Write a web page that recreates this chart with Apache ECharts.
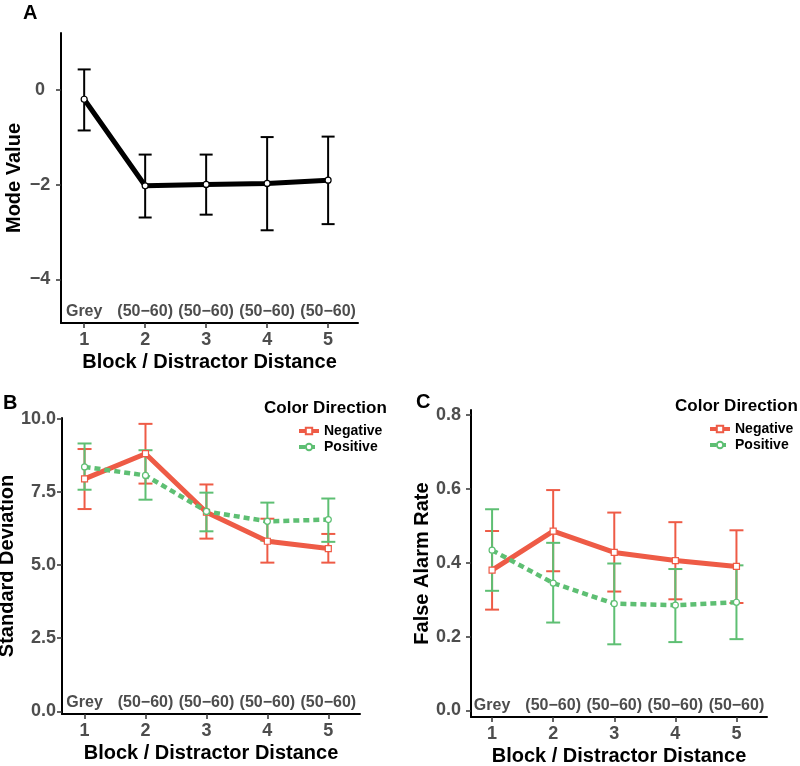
<!DOCTYPE html>
<html><head><meta charset="utf-8">
<script src="https://cdn.jsdelivr.net/npm/echarts@6/dist/echarts.min.js"></script>
<style>html,body{margin:0;padding:0;background:#fff}#c{width:800px;height:766px}</style>
</head><body><div id="c"></div>
<script>
// ---- data ----
const blocks = [1, 2, 3, 4, 5];
const conditionLabels = ['Grey', '(50−60)', '(50−60)', '(50−60)', '(50−60)'];
const seriesNames = ['Negative', 'Positive'];

const modeMean = [-0.19, -2.02, -1.99, -1.97, -1.90];
const modeLow  = [-0.85, -2.69, -2.63, -2.96, -2.83];
const modeHigh = [0.44, -1.36, -1.36, -0.99, -0.98];

const sdNegMean = [7.94, 8.80, 6.80, 5.81, 5.56];
const sdNegLow  = [6.91, 7.78, 5.90, 5.08, 5.08];
const sdNegHigh = [8.96, 9.82, 7.75, 6.58, 6.06];
const sdPosMean = [8.35, 8.06, 6.83, 6.49, 6.55];
const sdPosLow  = [7.57, 7.23, 6.15, 5.83, 5.79];
const sdPosHigh = [9.15, 8.92, 7.47, 7.13, 7.27];

const faNegMean = [0.380, 0.486, 0.428, 0.406, 0.390];
const faNegLow  = [0.273, 0.377, 0.322, 0.301, 0.291];
const faNegHigh = [0.486, 0.597, 0.536, 0.510, 0.488];
const faPosMean = [0.434, 0.345, 0.289, 0.285, 0.293];
const faPosLow  = [0.324, 0.238, 0.179, 0.185, 0.193];
const faPosHigh = [0.545, 0.454, 0.398, 0.383, 0.393];

const modeTicks = [-4, -2, 0];
const modeTickLabels = ['−4', '−2', '0'];
const sdTicks = [0, 2.5, 5, 7.5, 10];
const sdTickLabels = ['0.0', '2.5', '5.0', '7.5', '10.0'];
const faTicks = [0, 0.2, 0.4, 0.6, 0.8];
const faTickLabels = ['0.0', '0.2', '0.4', '0.6', '0.8'];

// ---- style ----
const FONT = '"Liberation Sans", Arial, Helvetica, sans-serif';
const RED = '#EE5B46';
const GREEN = '#5EBF73';
const TICKCOL = '#4D4D4D';

const pairs = (xs, ys) => xs.map((x, i) => [x, ys[i]]);
const triples = (xs, lo, hi) => xs.map((x, i) => [x, lo[i], hi[i]]);
const lookup = (vals, labels) => v => { const i = vals.findIndex(t => Math.abs(t - v) < 1e-9); return i >= 0 ? labels[i] : ''; };

function errorBar(capW, color, lw) {
  return function (params, api) {
    const x = api.value(0), lo = api.value(1), hi = api.value(2);
    const a = api.coord([x, hi]), b = api.coord([x, lo]);
    const style = { stroke: color, lineWidth: lw, fill: null };
    return { type: 'group', children: [
      { type: 'line', shape: { x1: a[0], y1: a[1], x2: b[0], y2: b[1] }, style },
      { type: 'line', shape: { x1: a[0] - capW / 2, y1: a[1], x2: a[0] + capW / 2, y2: a[1] }, style },
      { type: 'line', shape: { x1: b[0] - capW / 2, y1: b[1], x2: b[0] + capW / 2, y2: b[1] }, style }
    ]};
  };
}

function mainX(grid, min, max) {
  return {
    type: 'value', gridIndex: grid, min, max, position: 'bottom',
    name: 'Block / Distractor Distance', nameLocation: 'middle', nameGap: 29,
    nameTextStyle: { fontFamily: FONT, fontSize: 20, fontWeight: 'bold', color: '#000' },
    splitLine: { show: false },
    axisLine: { onZero: false, lineStyle: { color: '#000', width: 2 } },
    axisTick: { show: true, length: 5, customValues: blocks, lineStyle: { color: '#333', width: 1.5 } },
    axisLabel: { customValues: blocks, margin: 8, fontFamily: FONT, fontSize: 18, fontWeight: 'bold', color: TICKCOL,
      formatter: v => String(v) }
  };
}
function annotX(grid, min, max) {
  return {
    type: 'value', gridIndex: grid, min, max, position: 'bottom',
    splitLine: { show: false },
    axisLine: { show: false, onZero: false },
    axisTick: { show: false },
    axisLabel: { inside: true, customValues: blocks, margin: 3, fontFamily: FONT, fontSize: 16, fontWeight: 'bold', color: TICKCOL,
      formatter: lookup(blocks, conditionLabels) }
  };
}
function yAx(grid, min, max, name, gap, ticks, labels, margin, align) {
  return {
    type: 'value', gridIndex: grid, min, max,
    name, nameLocation: 'middle', nameGap: gap,
    nameTextStyle: { fontFamily: FONT, fontSize: 20, fontWeight: 'bold', color: '#000' },
    splitLine: { show: false },
    axisLine: { show: true, onZero: false, lineStyle: { color: '#000', width: 2 } },
    axisTick: { show: true, length: 5, customValues: ticks, lineStyle: { color: '#333', width: 1.5 } },
    axisLabel: { customValues: ticks, margin, align, fontFamily: FONT, fontSize: 18, fontWeight: 'bold', color: TICKCOL,
      formatter: lookup(ticks, labels) }
  };
}
function lineSeries(name, xi, yi, data, color, symbol, dashed, width) {
  return {
    type: 'line', name, xAxisIndex: xi, yAxisIndex: yi, data,
    symbol, symbolSize: 6, showSymbol: true,
    itemStyle: { color: '#fff', borderColor: color, borderWidth: 1.2 },
    lineStyle: { color, width, type: dashed ? [6, 4] : 'solid' },
    emphasis: { disabled: true }, animation: false, z: dashed ? 4 : 3
  };
}
function ebSeries(name, xi, yi, data, capW, color, lw) {
  return {
    type: 'custom', name, xAxisIndex: xi, yAxisIndex: yi, data,
    encode: { x: 0, y: [1, 2] }, renderItem: errorBar(capW, color, lw), animation: false, z: 2, silent: true
  };
}

const chart = echarts.init(document.getElementById('c'), null, { renderer: 'canvas' });
const legendBase = {
  orient: 'vertical', itemWidth: 20, itemHeight: 8, itemGap: 2, padding: 0,
  lineStyle: { width: 4 },
  textStyle: { fontFamily: FONT, fontSize: 14, fontWeight: 'bold', color: '#000' },
  data: seriesNames, selectedMode: false
};
const titleStyle = (size) => ({ fontFamily: FONT, fontSize: size, fontWeight: 'bold', color: '#000' });

chart.setOption({
  backgroundColor: '#fff',
  animation: false,
  title: [
    { text: 'A', left: 23, top: 3, padding: 0, textStyle: titleStyle(20) },
    { text: 'B', left: 3, top: 393, padding: 0, textStyle: titleStyle(20) },
    { text: 'C', left: 416, top: 392, padding: 0, textStyle: titleStyle(20) },
    { text: 'Color Direction', left: 264, top: 400, padding: 0, textStyle: titleStyle(17) },
    { text: 'Color Direction', left: 675, top: 398, padding: 0, textStyle: titleStyle(17) }
  ],
  legend: [
    Object.assign({ left: 297, top: 424 }, legendBase),
    Object.assign({ left: 708, top: 422 }, legendBase)
  ],
  grid: [
    { left: 61, top: 33, width: 297, height: 290, outerBoundsMode: 'none', containLabel: false },
    { left: 62, top: 418, width: 298, height: 296, outerBoundsMode: 'none', containLabel: false },
    { left: 471, top: 410, width: 296, height: 307, outerBoundsMode: 'none', containLabel: false }
  ],
  xAxis: [
    mainX(0, 0.62, 5.49), annotX(0, 0.62, 5.49),
    mainX(1, 0.63, 5.52), annotX(1, 0.63, 5.52),
    mainX(2, 0.655, 5.5), annotX(2, 0.655, 5.5)
  ],
  yAxis: [
    yAx(0, -4.92, 1.21, 'Mode Value', 37, modeTicks, modeTickLabels, 21, 'center'),
    yAx(1, -0.09, 10.02, 'Standard Deviation', 39, sdTicks, sdTickLabels, 6, 'right'),
    yAx(2, -0.018, 0.814, 'False Alarm Rate', 36, faTicks, faTickLabels, 10, 'right')
  ],
  series: [
    ebSeries('Mode SE', 0, 0, triples(blocks, modeLow, modeHigh), 13, '#000', 2),
    {
      type: 'line', name: 'Mode', xAxisIndex: 0, yAxisIndex: 0, data: pairs(blocks, modeMean),
      symbol: 'circle', symbolSize: 6,
      itemStyle: { color: '#fff', borderColor: '#000', borderWidth: 1.2 },
      lineStyle: { color: '#000', width: 5 }, z: 3, animation: false
    },
    ebSeries('Negative SE', 2, 1, triples(blocks, sdNegLow, sdNegHigh), 14, RED, 2),
    ebSeries('Positive SE', 2, 1, triples(blocks, sdPosLow, sdPosHigh), 14, GREEN, 2),
    lineSeries('Negative', 2, 1, pairs(blocks, sdNegMean), RED, 'rect', false, 5),
    lineSeries('Positive', 2, 1, pairs(blocks, sdPosMean), GREEN, 'circle', true, 4.5),
    ebSeries('Negative SE', 4, 2, triples(blocks, faNegLow, faNegHigh), 14, RED, 2),
    ebSeries('Positive SE', 4, 2, triples(blocks, faPosLow, faPosHigh), 14, GREEN, 2),
    lineSeries('Negative', 4, 2, pairs(blocks, faNegMean), RED, 'rect', false, 5),
    lineSeries('Positive', 4, 2, pairs(blocks, faPosMean), GREEN, 'circle', true, 4.5)
  ]
});
</script>
</body></html>
